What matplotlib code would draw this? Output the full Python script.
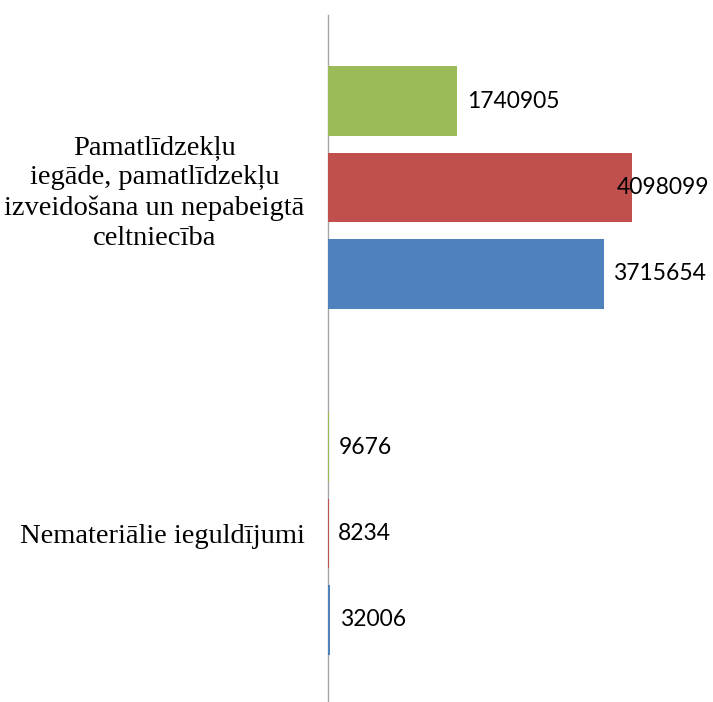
import matplotlib
matplotlib.use("Agg")
import matplotlib.pyplot as plt
import numpy as np

categories = ["Nemateriālie ieguldījumi",
              "Pamatlīdzekļu\niegāde, pamatlīdzekļu\nizveidošana un nepabeigtā\nceltniecība"]
series_names = ["S1", "S2", "S3"]
blue_vals = [32006, 3715654]
red_vals = [8234, 4098099]
green_vals = [9676, 1740905]
colors = ["#4F81BD", "#C0504D", "#9BBB59"]

W, H = 713, 702
fig = plt.figure(figsize=(W / 100, H / 100), dpi=100)
ax = fig.add_axes([328 / W, -4.5 / H, 385 / W, 692 / H])

y = np.arange(len(categories))
offsets = [-0.25, 0.0, 0.25]
bar_h = 0.2
texts = []
for vals, col, off in zip([blue_vals, red_vals, green_vals], colors, offsets):
    bars = ax.barh(y + off, vals, height=bar_h, color=col, zorder=3)
    for b, v in zip(bars, vals):
        t = ax.annotate(str(v), xy=(b.get_width(), b.get_y() + b.get_height() / 2),
                        xytext=(7, 0), textcoords="offset points",
                        ha="left", va="center", fontsize=16.5, family="Lato",
                        color="#000000", zorder=4)
        texts.append(t)

ax.set_xlim(0, 5.19e6)
ax.set_ylim(-0.5, 1.5)
ax.set_yticks(y)
ax.set_yticklabels(categories, family="Liberation Serif", fontsize=20.5,
                   multialignment="center", linespacing=1.28)
ax.tick_params(axis="y", length=0, pad=17)
ax.set_xticks([])
for s in ["top", "right", "bottom"]:
    ax.spines[s].set_visible(False)
ax.spines["left"].set_color("#A6A6A6")
ax.spines["left"].set_linewidth(1.0)
ax.spines["left"].set_zorder(1)

# keep labels inside the figure (clamp at right edge like the original)
fig.canvas.draw()
r = fig.canvas.get_renderer()
for t in texts:
    bb = t.get_window_extent(r)
    if bb.x1 > W - 3:
        t.set_ha("right")
        t.xy = (1.0, t.xy[1])
        t.xycoords = ("axes fraction", "data")
        t.xyann = (-3, 0)

fig.savefig("out.png", dpi=100, facecolor="white")
